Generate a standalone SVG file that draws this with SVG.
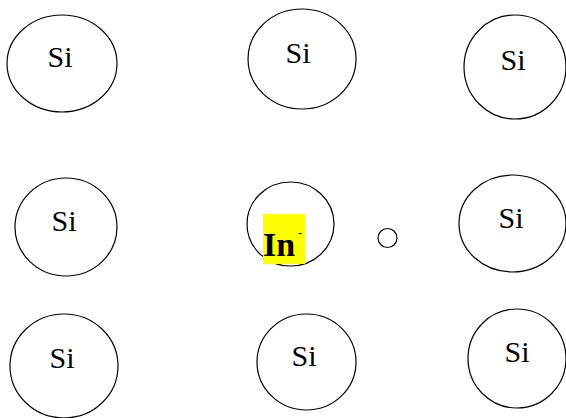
<svg xmlns="http://www.w3.org/2000/svg" width="566" height="418" viewBox="0 0 566 418">
<style>
.atom{fill:none;stroke:#000;stroke-width:1.2}
.lbl{font-family:"Liberation Serif","Times New Roman",serif;font-size:30px;fill:#000;text-anchor:middle}
.in{font-family:"Liberation Serif","Times New Roman",serif;font-size:34px;font-weight:bold;fill:#000}
.sup{font-family:"Liberation Serif","Times New Roman",serif;font-size:12px;font-weight:bold;fill:#000}
</style>
<rect width="566" height="418" fill="#fff"/>
<g id="si-top-left"><ellipse class="atom" cx="62" cy="63.5" rx="55" ry="48.5"/><text class="lbl" x="60" y="67">Si</text></g>
<g id="si-top-middle"><ellipse class="atom" cx="302" cy="59" rx="54" ry="50"/><text class="lbl" x="298" y="63">Si</text></g>
<g id="si-top-right"><ellipse class="atom" cx="515" cy="67" rx="51" ry="52"/><text class="lbl" x="513" y="70">Si</text></g>
<g id="si-mid-left"><ellipse class="atom" cx="66" cy="227" rx="51" ry="49"/><text class="lbl" x="64" y="231">Si</text></g>
<g id="in-center"><ellipse class="atom" cx="290.5" cy="224" rx="43.5" ry="42"/><rect x="263" y="214" width="42" height="50" fill="#ffff00"/><text class="in" x="263" y="256">In</text><text class="sup" x="298" y="237">-</text></g>
<g id="hole"><circle class="atom" cx="387.5" cy="238" r="9.5"/></g>
<g id="si-mid-right"><ellipse class="atom" cx="512.5" cy="223.5" rx="53.5" ry="48.5"/><text class="lbl" x="511" y="228">Si</text></g>
<g id="si-bot-left"><ellipse class="atom" cx="64" cy="366" rx="54" ry="52"/><text class="lbl" x="62" y="368">Si</text></g>
<g id="si-bot-middle"><ellipse class="atom" cx="306.5" cy="362" rx="49.5" ry="48"/><text class="lbl" x="304" y="366">Si</text></g>
<g id="si-bot-right"><ellipse class="atom" cx="517" cy="358.5" rx="49" ry="49.5"/><text class="lbl" x="517" y="362">Si</text></g>
<g id="connectors"/>
</svg>
